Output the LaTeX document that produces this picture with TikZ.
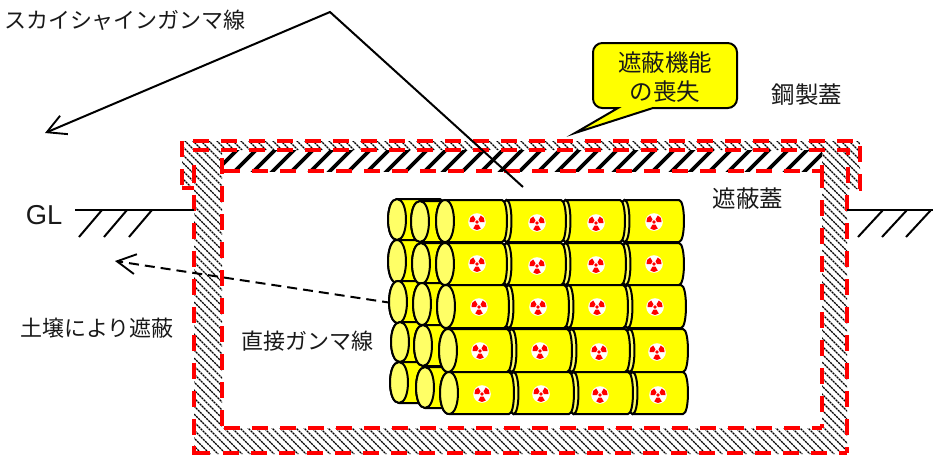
\documentclass[tikz,border=0pt]{standalone}
\usepackage{fontspec}
\setmainfont{Noto Sans CJK JP}
\newfontfamily\gl{Liberation Sans}
\usetikzlibrary{arrows.meta}
\definecolor{drumy}{HTML}{FFFF00}
\definecolor{capy}{HTML}{FFFF66}
\definecolor{redd}{HTML}{FF0000}
\tikzset{
 lbl/.style={font=\fontsize{16.5pt}{20pt}\selectfont,inner sep=0pt,text=black!90},
 lblk/.style={font=\fontsize{17.6pt}{20pt}\selectfont,inner sep=0pt,text=black!90},
 reddash/.style={draw=redd,line width=2.6pt,dash pattern=on 12pt off 9pt},
 redsolid/.style={draw=redd,line width=2.6pt},
 ln/.style={draw=black,line width=1.5pt},
 drumline/.style={draw=black,line width=1.5pt},
 openarrow/.style={-{Straight Barb[length=14pt,width=15pt,line width=1.4pt]}},
}
% x0 x1 top bot rxleft rxright colour of left cap
\newcommand{\drumbody}[7]{%
 \filldraw[drumline,fill=drumy] (#1,#3) -- (#2,#3)
   .. controls ({#2+1.33*#6},#3) and ({#2+1.33*#6},#4) .. (#2,#4) -- (#1,#4)
   .. controls ({#1-1.33*#5},#4) and ({#1-1.33*#5},#3) .. (#1,#3) -- cycle;
 \filldraw[drumline,fill=#7] (#1,#3)
   .. controls ({#1+1.33*#5},#3) and ({#1+1.33*#5},#4) .. (#1,#4)
   .. controls ({#1-1.33*#5},#4) and ({#1-1.33*#5},#3) .. (#1,#3) -- cycle;}
\newcommand{\trefoil}[2]{%
 \begin{scope}[shift={(#1,#2)}]
  \fill[white] (0,0) circle[radius=8.8];
  \fill[redd] (0,0) circle[radius=1.9];
  \foreach \a in {90,210,330}{
   \fill[redd] (\a-30:3) -- (\a-30:7.5) -- (\a:8) -- (\a+30:7.5) -- (\a+30:3) -- cycle;}
 \end{scope}}
% one front row: x0, four end positions, top, bottom
\newcommand{\frontrow}[7]{%
 \drumbody{#4+4.5}{#5}{#6}{#7}{5}{5}{capy}%
 \drumbody{#3+4.5}{#4}{#6}{#7}{5}{5}{capy}%
 \drumbody{#2+4.5}{#3}{#6}{#7}{5}{5}{capy}%
 \drumbody{#1}{#2}{#6}{#7}{9}{5}{capy}}
\begin{document}
\begin{tikzpicture}[x=0.75pt,y=-0.75pt]
\useasboundingbox (0,0) rectangle (933,462);
% hatch of the concrete and steel lid
\begin{scope}[even odd rule]
 \clip (182,141) -- (860,141) -- (860,189) -- (847,189) -- (847,454) -- (194,454) -- (194,188) -- (182,188) -- cycle
   (222,150) rectangle (822,428);
 \foreach \k in {-37,...,90}{
  \draw[black,line width=1pt,dash pattern=on 1.6pt off 0.6pt] ({\k*8+142},130) -- ({\k*8+482},470);}
\end{scope}
% shield lid stripes
\begin{scope}
 \clip (222,150) rectangle (822,171);
 \foreach \k in {0,...,33}{
  \draw[black,line width=2.9pt] ({212+\k*19},175) -- ({240+\k*19},147);}
\end{scope}
% red dashed outlines
\path[reddash] (193,141) -- (860,141) -- (860,189) -- (847,189);
\path[reddash] (182,141) -- (182,188);
\path[redsolid] (182,188) -- (194,188);
\path[reddash] (194,194.5) -- (194,446);
\path[redsolid] (194,446) -- (194,453) -- (210,453);
\path[reddash] (223,453) -- (847,453);
\path[reddash] (847,195) -- (847,453);
\path[redsolid] (194,165) -- (194,183);
\path[reddash] (193,150) -- (848,150) -- (848,189);
\path[reddash] (222,158) -- (222,426);
\path[reddash] (224,428) -- (822,428);
\path[reddash] (224,171) -- (822,171);
\path[redsolid] (822,165) -- (822,172);
\path[reddash] (822,172) -- (822,428);
% ground
\coordinate (gl1) at (75,209.5); \coordinate (gl2) at (194,209.5);
\coordinate (gr1) at (847,209.5); \coordinate (gr2) at (933,209.5);
\draw[ln] (gl1) -- (gl2);
\draw[ln] (gr1) -- (gr2);
\foreach \x in {102,127,152}{\draw[ln] (\x,210) -- (\x-23,237);}
\foreach \x in {883,907,931}{\draw[ln] (\x,210) -- (\x-25,237);}
% sky-shine ray
\coordinate (sk1) at (523,187); \coordinate (sk2) at (330,12); \coordinate (sk3) at (45,133);
\draw[ln,openarrow] (sk1) -- (sk2) -- (sk3);
% direct ray
\coordinate (dg1) at (392,303); \coordinate (dg2) at (115,261);
\draw[ln,dash pattern=on 7.5pt off 4.5pt,openarrow] (dg1) -- (dg2);
% back drums
\drumbody{397}{440}{199}{240}{9}{5}{capy}
\drumbody{397}{440}{240}{283}{9}{5}{capy}
\drumbody{398}{440}{281}{323}{9}{5}{capy}
\drumbody{400}{440}{322}{362}{9}{5}{capy}
\drumbody{399}{440}{362}{403}{9}{5}{capy}
\drumbody{420}{445}{201}{242}{9}{5}{capy}
\drumbody{421}{445}{243}{284}{9}{5}{capy}
\drumbody{422}{447}{283}{325}{9}{5}{capy}
\drumbody{423}{448}{325}{366}{9}{5}{capy}
\drumbody{425}{449}{367}{408}{9}{5}{capy}
% front drums
\frontrow{445}{502}{561}{620}{679}{200}{242}
\frontrow{445}{502}{561}{621}{679}{243}{285}
\frontrow{446}{504}{564}{623}{681}{285}{328}
\frontrow{448}{507}{567}{625}{683}{329}{372}
\frontrow{449}{509}{569}{628}{683}{372}{414}
\foreach \x/\y in {477/222,537/223,596/223,654/222,477/264,537/266,596/265,654/264,479/307,538/307,597/307,655/307,480/351,540/351,599/352,657/352,482/394,541/394,600/395,658/395}{\trefoil{\x}{\y}}
% callout
\filldraw[draw=black,line width=1.5pt,fill=drumy] (653,108) [rounded corners=7pt] -- (737,108) -- (737,43) -- (593,43) -- (593,108) [sharp corners] -- (618,108) -- (575,133) -- cycle;
% labels
\node[lblk] (cal1) at (665,63) {遮蔽機能};
\node[lblk] (cal2) at (665,92) {の喪失};
\node[lbl] (sky) at (125,20) {スカイシャインガンマ線};
\node[lblk] (steel) at (807,95) {鋼製蓋};
\node[lblk] (shield) at (748,199) {遮蔽蓋};
\node[lbl] (soil) at (97,328) {土壌により遮蔽};
\node[lbl] (direct) at (307,341) {直接ガンマ線};
\node[font=\gl\fontsize{20.5pt}{22pt}\selectfont,inner sep=0pt,text=black!90] (glab) at (44,215) {GL};
\end{tikzpicture}
\end{document}
